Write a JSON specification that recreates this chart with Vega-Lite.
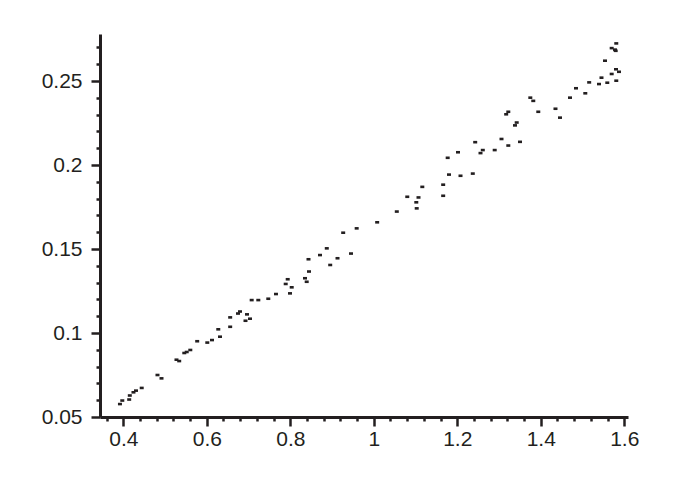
{
  "$schema": "https://vega.github.io/schema/vega-lite/v6.json",
  "width": 528,
  "height": 383,
  "autosize": {"type": "none"},
  "padding": {"left": 100, "top": 34, "right": 45, "bottom": 70},
  "background": "white",
  "config": {
    "view": {"stroke": null},
    "axis": {
      "grid": false,
      "domainColor": "#231f20",
      "domainWidth": 3,
      "tickColor": "#231f20",
      "tickWidth": 2.5,
      "labelColor": "#231f20",
      "labelFont": "Liberation Sans",
      "labelFontSize": 21,
      "title": null
    }
  },
  "data": {
    "values": [
      {"x": 0.392, "y": 0.0577}, {"x": 0.3976, "y": 0.0598}, {"x": 0.4141, "y": 0.0604},
      {"x": 0.4156, "y": 0.0628}, {"x": 0.4244, "y": 0.0647}, {"x": 0.4304, "y": 0.0657},
      {"x": 0.4441, "y": 0.0673}, {"x": 0.4819, "y": 0.075}, {"x": 0.4915, "y": 0.073},
      {"x": 0.5274, "y": 0.0841}, {"x": 0.5339, "y": 0.0833}, {"x": 0.5461, "y": 0.0881},
      {"x": 0.5519, "y": 0.0887}, {"x": 0.5605, "y": 0.0899}, {"x": 0.577, "y": 0.0951},
      {"x": 0.6012, "y": 0.0943}, {"x": 0.6125, "y": 0.0958}, {"x": 0.6275, "y": 0.1022},
      {"x": 0.6316, "y": 0.0978}, {"x": 0.656, "y": 0.1093}, {"x": 0.656, "y": 0.1037},
      {"x": 0.6747, "y": 0.1116}, {"x": 0.6795, "y": 0.1128}, {"x": 0.6963, "y": 0.1111},
      {"x": 0.6927, "y": 0.1073}, {"x": 0.7035, "y": 0.1085}, {"x": 0.7075, "y": 0.1196},
      {"x": 0.7234, "y": 0.1196}, {"x": 0.7473, "y": 0.1204}, {"x": 0.7657, "y": 0.1232},
      {"x": 0.789, "y": 0.1292}, {"x": 0.7938, "y": 0.132}, {"x": 0.8034, "y": 0.1272},
      {"x": 0.7993, "y": 0.1236}, {"x": 0.8352, "y": 0.1326}, {"x": 0.8393, "y": 0.1305},
      {"x": 0.8448, "y": 0.1366}, {"x": 0.8436, "y": 0.1439}, {"x": 0.8711, "y": 0.1464},
      {"x": 0.8874, "y": 0.1504}, {"x": 0.8956, "y": 0.1405}, {"x": 0.9131, "y": 0.1445},
      {"x": 0.9454, "y": 0.1473}, {"x": 0.9267, "y": 0.1597}, {"x": 0.959, "y": 0.1623},
      {"x": 1.0081, "y": 0.1659}, {"x": 1.0551, "y": 0.1723}, {"x": 1.0802, "y": 0.1811},
      {"x": 1.1018, "y": 0.1778}, {"x": 1.1071, "y": 0.1807}, {"x": 1.1028, "y": 0.1742},
      {"x": 1.1162, "y": 0.187}, {"x": 1.1662, "y": 0.1883}, {"x": 1.1662, "y": 0.1817},
      {"x": 1.1801, "y": 0.1943}, {"x": 1.2077, "y": 0.1936}, {"x": 1.2371, "y": 0.1949},
      {"x": 1.177, "y": 0.2043}, {"x": 1.2017, "y": 0.2076}, {"x": 1.2429, "y": 0.2136},
      {"x": 1.2556, "y": 0.2071}, {"x": 1.2611, "y": 0.2089}, {"x": 1.2896, "y": 0.2089},
      {"x": 1.3059, "y": 0.2155}, {"x": 1.3222, "y": 0.2116}, {"x": 1.3502, "y": 0.2138},
      {"x": 1.3171, "y": 0.2302}, {"x": 1.3222, "y": 0.2317}, {"x": 1.3382, "y": 0.2236},
      {"x": 1.3423, "y": 0.2253}, {"x": 1.3749, "y": 0.2401}, {"x": 1.382, "y": 0.2382},
      {"x": 1.394, "y": 0.2317}, {"x": 1.4352, "y": 0.2335}, {"x": 1.446, "y": 0.2282},
      {"x": 1.47, "y": 0.2401}, {"x": 1.4843, "y": 0.2457}, {"x": 1.5066, "y": 0.2427},
      {"x": 1.5159, "y": 0.2492}, {"x": 1.5394, "y": 0.2482}, {"x": 1.5454, "y": 0.252},
      {"x": 1.5593, "y": 0.249}, {"x": 1.5698, "y": 0.2542}, {"x": 1.5808, "y": 0.2502},
      {"x": 1.5801, "y": 0.257}, {"x": 1.5873, "y": 0.2555}, {"x": 1.5538, "y": 0.2621},
      {"x": 1.5698, "y": 0.2696}, {"x": 1.5777, "y": 0.2687}, {"x": 1.5808, "y": 0.2724},
      {"x": 1.5794, "y": 0.268}
    ]
  },
  "mark": {
    "type": "point",
    "shape": "M-1,-0.65H1V0.65H-1Z",
    "size": 16,
    "filled": true,
    "opacity": 1,
    "color": "#231f20",
    "strokeWidth": 0
  },
  "encoding": {
    "x": {
      "field": "x",
      "type": "quantitative",
      "scale": {"domain": [0.3442, 1.6089], "nice": false, "zero": false},
      "axis": {
        "values": [0.36, 0.4, 0.44, 0.48, 0.52, 0.56, 0.6, 0.64, 0.68, 0.72, 0.76, 0.8, 0.84, 0.88, 0.92, 0.96, 1, 1.04, 1.08, 1.12, 1.16, 1.2, 1.24, 1.28, 1.32, 1.36, 1.4, 1.44, 1.48, 1.52, 1.56, 1.6],
        "format": "~g",
        "labelExpr": "abs(datum.value*5 - round(datum.value*5)) < 0.001 ? datum.label : ''",
        "tickSize": {"condition": {"test": "abs(datum.value*5 - round(datum.value*5)) < 0.001", "value": 9}, "value": 4},
        "labelPadding": 2,
        "labelFlush": false,
        "labelOverlap": false
      }
    },
    "y": {
      "field": "y",
      "type": "quantitative",
      "scale": {"domain": [0.05, 0.278], "nice": false, "zero": false},
      "axis": {
        "values": [0.05, 0.06, 0.07, 0.08, 0.09, 0.1, 0.11, 0.12, 0.13, 0.14, 0.15, 0.16, 0.17, 0.18, 0.19, 0.2, 0.21, 0.22, 0.23, 0.24, 0.25, 0.26, 0.27],
        "format": "~g",
        "labelExpr": "abs(datum.value*20 - round(datum.value*20)) < 0.001 ? datum.label : ''",
        "tickSize": {"condition": {"test": "abs(datum.value*20 - round(datum.value*20)) < 0.001", "value": 9}, "value": 4},
        "labelPadding": 9,
        "labelFlush": false,
        "labelOverlap": false
      }
    }
  }
}
